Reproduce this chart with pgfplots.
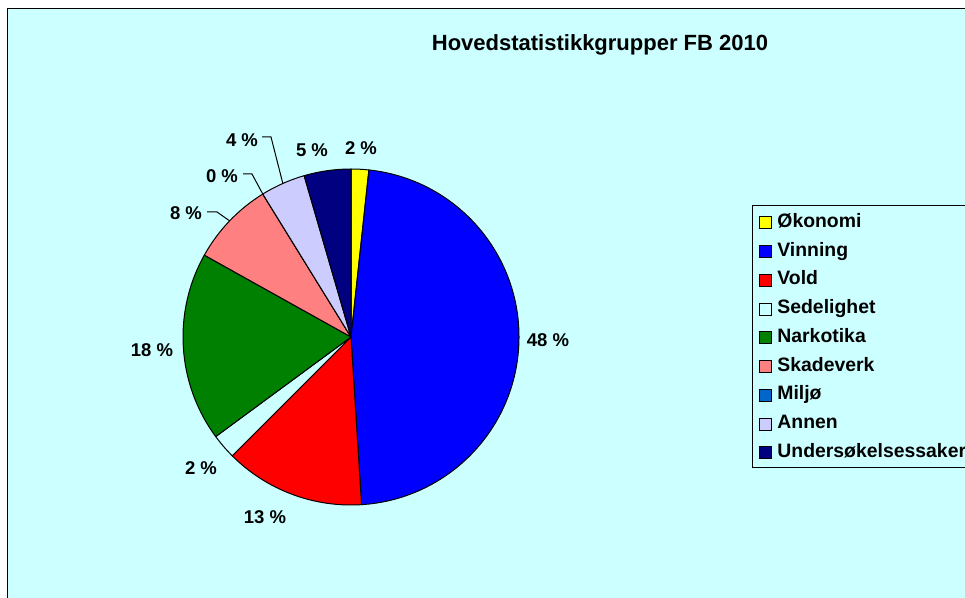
\documentclass[border=0pt]{standalone}
\usepackage{pgfplots}
\pgfplotsset{compat=1.18}
\usepackage{pgfplotstable}
\usetikzlibrary{calc}
\usepackage{fontspec}
\setmainfont{Liberation Sans}

\definecolor{bg}{HTML}{CCFFFF}
\definecolor{c0}{HTML}{FFFF00}
\definecolor{c1}{HTML}{0000FF}
\definecolor{c2}{HTML}{FF0000}
\definecolor{c3}{HTML}{CCFFFF}
\definecolor{c4}{HTML}{008000}
\definecolor{c5}{HTML}{FF8080}
\definecolor{c6}{HTML}{0066CC}
\definecolor{c7}{HTML}{CCCCFF}
\definecolor{c8}{HTML}{000080}

% value = share of the pie (percent), pct = printed label
% lx,ly = label centre (pixels), hx1,hx2,hy = leader line start (0 = none)
\pgfplotstableread[col sep=comma]{
name,value,pct,col,lx,ly,hx1,hx2,hy
Økonomi,1.7,2,c0,361,148,0,0,0
Vinning,47.3,48,c1,548,340,0,0,0
Vold,13.5,13,c2,265,517,0,0,0
Sedelighet,2.4,2,c3,201,468,0,0,0
Narkotika,18.2,18,c4,152,350,0,0,0
Skadeverk,8.1,8,c5,186,213,207,217,212
Miljø,0.0,0,c6,222,176,243,252,174
Annen,4.3,4,c7,242,140,262,271,137
Undersøkelsessaker,4.5,5,c8,312,150,0,0,0
}\piedata

\newcommand\lblfont{\fontsize{9.25}{11}\selectfont\bfseries}
\newcommand\legfont{\fontsize{9.7}{11}\selectfont\bfseries}

\begin{document}
\begin{tikzpicture}
\useasboundingbox (0,0) rectangle (482.5pt,299pt);
\clip (0,0) rectangle (482.5pt,299pt);
\fill[white] (0,0) rectangle (482.5pt,299pt);
\begin{axis}[
  scale only axis, width=482.5pt, height=299pt,
  xmin=0, xmax=965, ymin=0, ymax=598, y dir=reverse,
  hide axis, clip=false,
]
\pgfplotsextra{
  % chart area
  \draw[fill=bg, line width=0.8pt] (axis cs:7.5,8.5) rectangle (axis cs:990,620);
  % title
  \node[font=\fontsize{11}{13}\selectfont\bfseries] at (axis cs:600,45) {Hovedstatistikkgrupper FB 2010};
  % legend box
  \draw[fill=bg, line width=0.5pt] (axis cs:752,206) rectangle (axis cs:1000,468);
  \pgfplotstablegetrowsof{\piedata}
  \pgfmathtruncatemacro\nrows{\pgfplotsretval-1}
  \xdef\cum{0}
  \foreach \i in {0,...,\nrows}{
    \pgfplotstablegetelem{\i}{value}\of\piedata \let\val\pgfplotsretval
    \pgfplotstablegetelem{\i}{col}\of\piedata \let\clr\pgfplotsretval
    \pgfplotstablegetelem{\i}{pct}\of\piedata \let\pct\pgfplotsretval
    \pgfplotstablegetelem{\i}{name}\of\piedata \let\nm\pgfplotsretval
    \pgfplotstablegetelem{\i}{lx}\of\piedata \let\lx\pgfplotsretval
    \pgfplotstablegetelem{\i}{ly}\of\piedata \let\ly\pgfplotsretval
    \pgfplotstablegetelem{\i}{hx1}\of\piedata \let\hxa\pgfplotsretval
    \pgfplotstablegetelem{\i}{hx2}\of\piedata \let\hxb\pgfplotsretval
    \pgfplotstablegetelem{\i}{hy}\of\piedata \let\hy\pgfplotsretval
    \pgfmathsetmacro\sa{90-3.6*\cum}
    \pgfmathsetmacro\ea{90-3.6*(\cum+\val)}
    \pgfmathsetmacro\ma{(\sa+\ea)/2}
    \pgfmathsetmacro\newcum{\cum+\val}
    \xdef\cum{\newcum}
    % wedge
    \draw[fill=\clr, line width=0.5pt, line join=round]
      (axis cs:351,337) -- ++(\sa:84pt) arc[start angle=\sa, end angle=\ea, radius=84pt] -- cycle;
    % label
    \node[font=\lblfont, inner sep=0pt] at (axis cs:\lx,\ly) {\pct~\%};
    % leader line
    \pgfmathtruncatemacro\hasleader{\hy>0 ? 1 : 0}
    \ifnum\hasleader=1
      \draw[line width=0.5pt] (axis cs:\hxa,\hy) -- (axis cs:\hxb,\hy) -- ($(axis cs:351,337)+(\ma:84pt)$);
    \fi
    % legend entry
    \pgfmathsetmacro\ry{223+28.75*\i}
    \draw[fill=\clr, line width=0.5pt] (axis cs:759,\ry-6) rectangle (axis cs:771,\ry+6);
    \node[font=\legfont, anchor=west, inner sep=0pt] at (axis cs:777,\ry) {\strut\nm};
  }
}
\end{axis}
\end{tikzpicture}
\end{document}
